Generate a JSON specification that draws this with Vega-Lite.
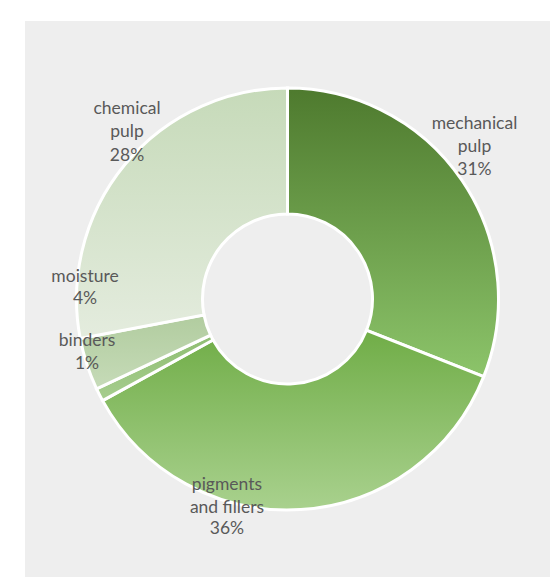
{
  "$schema": "https://vega.github.io/schema/vega-lite/v6.json",
  "width": 525,
  "height": 556,
  "autosize": {"type": "none"},
  "padding": {"left": 25, "top": 21, "right": 0, "bottom": 0},
  "background": "#ffffff",
  "view": {"fill": "#eeeeee", "stroke": null},
  "data": {
    "values": [
      {"category": "mechanical pulp", "share": 0.31},
      {"category": "pigments and fillers", "share": 0.36},
      {"category": "binders", "share": 0.01},
      {"category": "moisture", "share": 0.04},
      {"category": "chemical pulp", "share": 0.28}
    ]
  },
  "transform": [{"window": [{"op": "row_number", "as": "idx"}]}],
  "encoding": {
    "theta": {"field": "share", "type": "quantitative", "stack": true},
    "order": {"field": "idx", "type": "quantitative"},
    "detail": {"field": "category"}
  },
  "layer": [
    {
      "mark": {"type": "arc", "outerRadius": 211, "innerRadius": 85, "stroke": "#ffffff", "strokeWidth": 3,
        "fill": {"gradient": "linear", "x1": 0, "y1": 0, "x2": 0, "y2": 1, "stops": [{"offset": 0, "color": "#4e7a2e"}, {"offset": 1, "color": "#8cc46a"}]}},
      "encoding": {"opacity": {"condition": {"test": "datum.category === 'mechanical pulp'", "value": 1}, "value": 0}}
    },
    {
      "mark": {"type": "arc", "outerRadius": 211, "innerRadius": 85, "stroke": "#ffffff", "strokeWidth": 3,
        "fill": {"gradient": "linear", "x1": 0, "y1": 0, "x2": 0, "y2": 1, "stops": [{"offset": 0, "color": "#70ad47"}, {"offset": 1, "color": "#a9d18e"}]}},
      "encoding": {"opacity": {"condition": {"test": "datum.category === 'pigments and fillers'", "value": 1}, "value": 0}}
    },
    {
      "mark": {"type": "arc", "outerRadius": 211, "innerRadius": 85, "stroke": "#ffffff", "strokeWidth": 3,
        "fill": {"gradient": "linear", "x1": 0, "y1": 0, "x2": 0, "y2": 1, "stops": [{"offset": 0, "color": "#8fbe72"}, {"offset": 1, "color": "#a6cd8e"}]}},
      "encoding": {"opacity": {"condition": {"test": "datum.category === 'binders'", "value": 1}, "value": 0}}
    },
    {
      "mark": {"type": "arc", "outerRadius": 211, "innerRadius": 85, "stroke": "#ffffff", "strokeWidth": 3,
        "fill": {"gradient": "linear", "x1": 0, "y1": 0, "x2": 0, "y2": 1, "stops": [{"offset": 0, "color": "#b1cc9f"}, {"offset": 1, "color": "#c6dbb8"}]}},
      "encoding": {"opacity": {"condition": {"test": "datum.category === 'moisture'", "value": 1}, "value": 0}}
    },
    {
      "mark": {"type": "arc", "outerRadius": 211, "innerRadius": 85, "stroke": "#ffffff", "strokeWidth": 3,
        "fill": {"gradient": "linear", "x1": 0, "y1": 0, "x2": 0, "y2": 1, "stops": [{"offset": 0, "color": "#c6dab9"}, {"offset": 1, "color": "#e4ecde"}]}},
      "encoding": {"opacity": {"condition": {"test": "datum.category === 'chemical pulp'", "value": 1}, "value": 0}}
    },
    {
      "mark": {"type": "text", "radius": 235, "dx": -7.4, "dy": -42.9, "align": "center", "baseline": "middle", "font": "Lato", "fontSize": 17.5, "lineHeight": 23, "lineBreak": " ", "fill": "#595959"},
      "encoding": {"text": {"condition": {"test": "datum.category === 'mechanical pulp'", "field": "category"}, "value": ""}}
    },
    {
      "mark": {"type": "text", "radius": 235, "dx": -7.4, "dy": 3.1, "align": "center", "baseline": "middle", "font": "Lato", "fontSize": 17.5, "fill": "#595959"},
      "encoding": {"text": {"condition": {"test": "datum.category === 'mechanical pulp'", "field": "share", "type": "quantitative", "format": ".0%"}, "value": ""}}
    },
    {
      "mark": {"type": "text", "radius": 235, "dx": 20.6, "dy": -40.2, "align": "center", "baseline": "middle", "font": "Lato", "fontSize": 17.5, "lineHeight": 23, "lineBreak": " ", "fill": "#595959"},
      "encoding": {"text": {"condition": {"test": "datum.category === 'chemical pulp'", "field": "category"}, "value": ""}}
    },
    {
      "mark": {"type": "text", "radius": 235, "dx": 20.6, "dy": 6.3, "align": "center", "baseline": "middle", "font": "Lato", "fontSize": 17.5, "fill": "#595959"},
      "encoding": {"text": {"condition": {"test": "datum.category === 'chemical pulp'", "field": "share", "type": "quantitative", "format": ".0%"}, "value": ""}}
    },
    {
      "mark": {"type": "text", "radius": 235, "dx": 21, "dy": -94.6, "align": "center", "baseline": "middle", "font": "Lato", "fontSize": 17.5, "fill": "#595959"},
      "encoding": {"text": {"condition": {"test": "datum.category === 'moisture'", "field": "category"}, "value": ""}}
    },
    {
      "mark": {"type": "text", "radius": 235, "dx": 21, "dy": -72.6, "align": "center", "baseline": "middle", "font": "Lato", "fontSize": 17.5, "fill": "#595959"},
      "encoding": {"text": {"condition": {"test": "datum.category === 'moisture'", "field": "share", "type": "quantitative", "format": ".0%"}, "value": ""}}
    },
    {
      "mark": {"type": "text", "radius": 235, "dx": 8.9, "dy": -64.7, "align": "center", "baseline": "middle", "font": "Lato", "fontSize": 17.5, "fill": "#595959"},
      "encoding": {"text": {"condition": {"test": "datum.category === 'binders'", "field": "category"}, "value": ""}}
    },
    {
      "mark": {"type": "text", "radius": 235, "dx": 8.9, "dy": -41.7, "align": "center", "baseline": "middle", "font": "Lato", "fontSize": 17.5, "fill": "#595959"},
      "encoding": {"text": {"condition": {"test": "datum.category === 'binders'", "field": "share", "type": "quantitative", "format": ".0%"}, "value": ""}}
    },
    {
      "mark": {"type": "text", "radius": 235, "dx": -75.3, "dy": -48.5, "align": "center", "baseline": "middle", "font": "Lato", "fontSize": 17.5, "lineHeight": 23, "lineBreak": {"expr": "regexp('(?<!and) ')"}, "fill": "#595959"},
      "encoding": {"text": {"condition": {"test": "datum.category === 'pigments and fillers'", "field": "category"}, "value": ""}}
    },
    {
      "mark": {"type": "text", "radius": 235, "dx": -75.3, "dy": -5, "align": "center", "baseline": "middle", "font": "Lato", "fontSize": 17.5, "fill": "#595959"},
      "encoding": {"text": {"condition": {"test": "datum.category === 'pigments and fillers'", "field": "share", "type": "quantitative", "format": ".0%"}, "value": ""}}
    }
  ]
}
